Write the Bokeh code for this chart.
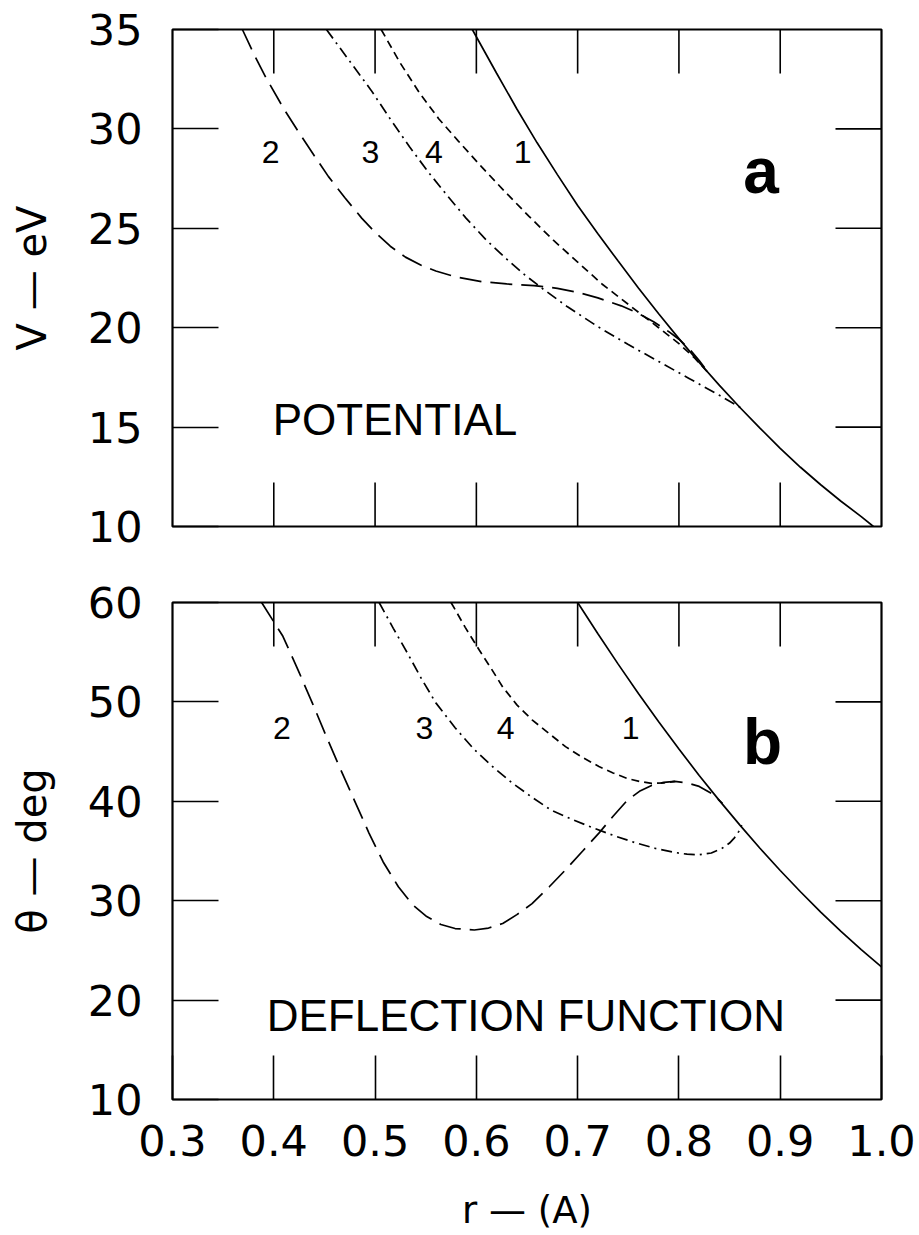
import numpy as np
from bokeh.plotting import figure
from bokeh.models import LinearAxis, FixedTicker, Range1d, Label, PrintfTickFormatter
from bokeh.layouts import column
from bokeh.embed import file_html
from bokeh.resources import INLINE

# ---------------- data ----------------
r_ticks = [0.3, 0.4, 0.5, 0.6, 0.7, 0.8, 0.9, 1.0]
v_ticks = [10, 15, 20, 25, 30, 35]
theta_ticks = [10, 20, 30, 40, 50, 60]

# panel a : potential V (eV) vs r (A)
pa_r1 = [0.596, 0.62, 0.64, 0.66, 0.68, 0.70, 0.72, 0.74, 0.76, 0.78, 0.80, 0.82,
         0.84, 0.86, 0.88, 0.90, 0.92, 0.94, 0.96, 0.98, 0.992]
pa_v1 = [35.0, 32.8, 31.0, 29.3, 27.7, 26.15, 24.72, 23.35, 22.0, 20.7, 19.45, 18.25,
         17.1, 16.0, 14.95, 13.93, 12.98, 12.1, 11.27, 10.5, 10.0]

pa_r2 = [0.369, 0.38, 0.392, 0.41, 0.425, 0.44, 0.454, 0.47, 0.487, 0.50, 0.515, 0.53,
         0.545, 0.56, 0.58, 0.605, 0.63, 0.657, 0.68, 0.70, 0.72, 0.743, 0.76, 0.775,
         0.79, 0.80, 0.81, 0.82, 0.83]
pa_v2 = [35.0, 33.8, 32.6, 31.0, 29.8, 28.65, 27.6, 26.55, 25.5, 24.8, 24.1, 23.55,
         23.15, 22.85, 22.55, 22.32, 22.2, 22.12, 21.98, 21.78, 21.5, 21.1, 20.72, 20.3,
         19.8, 19.42, 18.95, 18.35, 17.68]

pa_r3 = [0.452, 0.475, 0.496, 0.515, 0.534, 0.553, 0.572, 0.59, 0.610, 0.63, 0.648,
         0.665, 0.69, 0.72, 0.75, 0.78, 0.81, 0.84, 0.861]
pa_v3 = [35.0, 33.4, 31.95, 30.5, 29.1, 27.8, 26.6, 25.5, 24.4, 23.45, 22.65,
         21.98, 21.05, 20.05, 19.15, 18.3, 17.45, 16.6, 15.98]

pa_r4 = [0.506, 0.525, 0.544, 0.563, 0.582, 0.605, 0.629, 0.652, 0.676, 0.70, 0.724,
         0.743, 0.762, 0.78, 0.80, 0.815, 0.83]
pa_v4 = [35.0, 33.3, 31.8, 30.5, 29.4, 28.1, 26.8, 25.6, 24.4, 23.3, 22.2,
         21.45, 20.7, 20.0, 19.2, 18.5, 17.68]

# panel b : deflection function theta (deg) vs r (A)
pb_r1 = [0.70, 0.72, 0.74, 0.76, 0.78, 0.80, 0.82, 0.84, 0.86, 0.88, 0.90, 0.92,
         0.94, 0.96, 0.98, 1.0]
pb_t1 = [60.0, 56.85, 53.8, 50.85, 48.0, 45.26, 42.6, 40.07, 37.63, 35.28, 33.04, 30.9,
         28.86, 26.92, 25.08, 23.34]

pb_r2 = [0.388, 0.409, 0.424, 0.438, 0.452, 0.466, 0.48, 0.494, 0.508, 0.523, 0.537,
         0.551, 0.565, 0.579, 0.598, 0.612, 0.626, 0.64, 0.655, 0.672, 0.688, 0.705,
         0.721, 0.735, 0.749, 0.761, 0.773, 0.785, 0.796, 0.808, 0.820, 0.832, 0.843]
pb_t2 = [60.0, 56.6, 53.2, 49.9, 46.5, 43.2, 40.0, 36.8, 33.9, 31.4, 29.6,
         28.4, 27.6, 27.2, 27.05, 27.25, 27.7, 28.6, 29.7, 31.4, 33.1, 35.0,
         36.8, 38.5, 40.1, 41.0, 41.6, 41.9, 42.0, 41.85, 41.5, 40.8, 39.8]

pb_r3 = [0.504, 0.518, 0.532, 0.546, 0.560, 0.579, 0.598, 0.617, 0.636, 0.655, 0.674,
         0.695, 0.716, 0.737, 0.758, 0.777, 0.796, 0.808, 0.820, 0.832, 0.843, 0.850,
         0.855, 0.859, 0.862]
pb_t3 = [60.0, 57.4, 54.9, 52.3, 49.9, 47.4, 45.2, 43.4, 41.8, 40.4, 39.1,
         38.15, 37.3, 36.5, 35.8, 35.25, 34.85, 34.68, 34.62, 34.8, 35.3, 35.8,
         36.35, 36.95, 37.6]

pb_r4 = [0.575, 0.589, 0.603, 0.615, 0.626, 0.64, 0.655, 0.672, 0.688, 0.705, 0.721,
         0.735, 0.749, 0.761, 0.773, 0.785, 0.796]
pb_t4 = [60.0, 57.5, 55.2, 53.3, 51.5, 49.7, 48.2, 46.8, 45.5, 44.4, 43.5,
         42.85, 42.3, 42.0, 41.8, 41.85, 42.0]

curve_names = ["1", "2", "3", "4"]

# ---------------- styling ----------------
TICK_FONT = "DejaVu Sans"
TICK_SIZE = "43px"
DASH = {"1": "solid", "2": "22 9", "3": "11 5 2 5", "4": "8 5"}
LW = 1.7
TICK_W = 1.6


def base_fig(height, y0, y1, top_border, bottom_border):
    p = figure(width=919, height=height,
               x_range=Range1d(r_ticks[0], r_ticks[-1]), y_range=Range1d(y0, y1),
               output_backend="svg", toolbar_location=None,
               x_axis_location=None, y_axis_location=None,
               min_border_left=172, min_border_right=38,
               min_border_top=top_border, min_border_bottom=bottom_border,
               background_fill_color="white", border_fill_color="white")
    p.xgrid.grid_line_color = None
    p.ygrid.grid_line_color = None
    p.outline_line_color = "black"
    p.outline_line_width = 2.2
    p.outline_line_alpha = 1.0
    return p


def left_axis(p, yticks, ylabel):
    ax = LinearAxis(ticker=FixedTicker(ticks=yticks))
    ax.major_tick_in = 46
    ax.major_tick_out = 0
    ax.minor_tick_in = 0
    ax.minor_tick_out = 0
    ax.major_tick_line_width = TICK_W
    ax.major_tick_line_color = "black"
    ax.axis_line_color = None
    ax.major_label_text_font = TICK_FONT
    ax.major_label_text_font_size = TICK_SIZE
    ax.major_label_text_color = "black"
    ax.major_label_standoff = 30
    ax.axis_label = ylabel
    ax.axis_label_text_font = TICK_FONT
    ax.axis_label_text_font_size = "40px"
    ax.axis_label_text_font_style = "normal"
    ax.axis_label_text_color = "black"
    ax.axis_label_standoff = 30
    p.add_layout(ax, "left")


def bottom_axis(p, xlabel):
    ax = LinearAxis(ticker=FixedTicker(ticks=r_ticks),
                    formatter=PrintfTickFormatter(format="%.1f"))
    ax.major_tick_in = 44
    ax.major_tick_out = 0
    ax.minor_tick_in = 0
    ax.minor_tick_out = 0
    ax.major_tick_line_width = TICK_W
    ax.axis_line_color = None
    ax.major_label_text_font = TICK_FONT
    ax.major_label_text_font_size = TICK_SIZE
    ax.major_label_text_color = "black"
    ax.major_label_standoff = 25
    ax.axis_label = xlabel
    ax.axis_label_text_font = TICK_FONT
    ax.axis_label_text_font_size = "37px"
    ax.axis_label_text_font_style = "normal"
    ax.axis_label_text_color = "black"
    ax.axis_label_standoff = 30
    p.add_layout(ax, "below")


def inner_ticks(p, yticks, top=True, bottom=False):
    """Inward tick marks on the frame sides that carry no labels."""
    x_end = r_ticks[-1]
    y_lo, y_hi = yticks[0], yticks[-1]
    inner_y = yticks[1:-1]
    inner_x = r_ticks[1:-1]
    p.ray(x=[x_end] * len(inner_y), y=inner_y, length=46, length_units="screen",
          angle=np.pi, line_color="black", line_width=TICK_W)
    if top:
        p.ray(x=inner_x, y=[y_hi] * len(inner_x), length=44, length_units="screen",
              angle=-np.pi / 2, line_color="black", line_width=TICK_W)
    if bottom:
        p.ray(x=inner_x, y=[y_lo] * len(inner_x), length=44, length_units="screen",
              angle=np.pi / 2, line_color="black", line_width=TICK_W)


def add_curves(p, data):
    for name in curve_names:
        xs, ys = data[name]
        p.line(xs, ys, line_color="black", line_width=LW, line_dash=DASH[name])


def add_labels(p, label_pos, letter, letter_pos, title, title_pos):
    for name, (lx, ly) in label_pos.items():
        p.add_layout(Label(x=lx, y=ly, text=name, text_font="Liberation Sans",
                           text_font_size="32px", text_color="black",
                           text_align="center", text_baseline="alphabetic"))
    p.add_layout(Label(x=letter_pos[0], y=letter_pos[1], text=letter,
                       text_font="Liberation Sans", text_font_style="bold",
                       text_font_size="64px", text_color="black",
                       text_align="center", text_baseline="alphabetic"))
    p.add_layout(Label(x=title_pos[0], y=title_pos[1], text=title,
                       text_font="Liberation Sans", text_font_size="44px",
                       text_color="black", text_align="left",
                       text_baseline="alphabetic"))


# ---------------- panel a ----------------
pa = base_fig(565, v_ticks[0], v_ticks[-1], 29, 39)
left_axis(pa, v_ticks, "V — eV")
inner_ticks(pa, v_ticks, top=True, bottom=True)
add_curves(pa, {"1": (pa_r1, pa_v1), "2": (pa_r2, pa_v2),
                "3": (pa_r3, pa_v3), "4": (pa_r4, pa_v4)})
add_labels(pa,
           {"2": (0.397, 28.85), "3": (0.4955, 28.85), "4": (0.558, 28.85), "1": (0.6456, 28.85)},
           "a", (0.881, 27.9),
           "POTENTIAL", (0.399, 15.37))

# ---------------- panel b ----------------
pb = base_fig(670, theta_ticks[0], theta_ticks[-1], 37, 136)
left_axis(pb, theta_ticks, "θ — deg")
bottom_axis(pb, "r — (A)")
inner_ticks(pb, theta_ticks, top=True, bottom=False)
add_curves(pb, {"1": (pb_r1, pb_t1), "2": (pb_r2, pb_t2),
                "3": (pb_r3, pb_t3), "4": (pb_r4, pb_t4)})
add_labels(pb,
           {"2": (0.408, 47.35), "3": (0.5486, 47.35), "4": (0.6288, 47.35), "1": (0.7524, 47.35)},
           "b", (0.8825, 46.0),
           "DEFLECTION FUNCTION", (0.393, 18.5))

layout = column(pa, pb, spacing=0)
open("out.html", "w").write(file_html(layout, INLINE))
